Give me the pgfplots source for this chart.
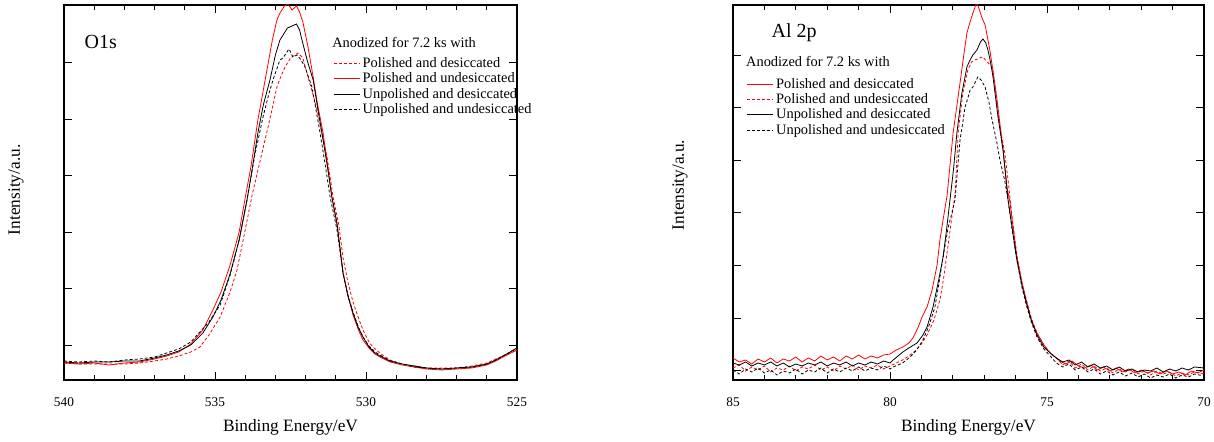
\documentclass[border=0pt]{standalone}
\usepackage{fontspec}
\setmainfont{Liberation Serif}
\usepackage{pgfplots}
\pgfplotsset{compat=1.18}

\pgfplotsset{
  xps/.style={
    scale only axis, height=281.25pt, ymin=0, ymax=375,
    x dir=reverse,
    axis line style={line width=0.8pt},
    tick style={line width=0.6pt, black},
    major tick length=6pt, minor tick length=3.5pt,
    tick align=inside,
    yticklabels={},
    minor x tick num=4,
    tick label style={font=\fontsize{10}{12}\selectfont},
    /pgf/number format/assume math mode=true,
    xticklabel style={yshift=-10pt},
    label style={font=\fontsize{13}{15}\selectfont},
    xlabel={Binding Energy/eV},
    ylabel={Intensity/a.u.},
    xlabel style={at={(axis description cs:0.5,-0.125)}, anchor=center},
    legend style={draw=none, fill=none, font=\fontsize{10.8}{12}\selectfont,
      legend cell align=left, row sep=-1.5pt, anchor=north west},
    legend image code/.code={\draw[#1] plot coordinates {(0pt,0pt) (19.5pt,0pt)};},
    every axis plot/.append style={line width=0.6pt},
  },
  dsh/.style={dash pattern=on 2.2pt off 1.6pt},
}

\begin{document}
\begin{tikzpicture}
\path[use as bounding box] (0,0) rectangle (910.5pt,331.5pt);

% ---------- O1s ----------
\begin{axis}[xps, at={(48pt,46.5pt)}, anchor=south west, width=339.75pt,
  xmin=525, xmax=540, xtick={525,530,535,540},
  ytick={35,91.5,148,204.5,261,317.5},
  ylabel style={at={(axis description cs:-0.106,0.507)}, anchor=center},
  legend style={at={(axis description cs:0.585,0.875)}},
]
\addplot[red, dsh] coordinates {
(540.0,17) (539.5,16) (539.0,16) (538.5,16) (538.0,16) (537.5,17) (537.0,19)
(536.6,21) (536.2,24) (535.8,28) (535.5,33) (535.2,45) (534.83,63) (534.5,88)
(534.27,110) (534.0,150) (533.77,185) (533.5,220) (533.25,252) (533.1,272)
(532.95,293) (532.8,305) (532.68,313) (532.5,322) (532.35,325) (532.25,327)
(532.09,322) (531.92,303) (531.75,285) (531.62,270) (531.45,245) (531.29,223)
(531.09,183) (530.9,155) (530.76,122) (530.6,98) (530.43,78) (530.25,62)
(530.1,50) (529.9,38) (529.77,33) (529.5,26) (529.2,20) (528.8,16) (528.4,14)
(528.0,12) (527.5,12) (527.0,12) (526.5,14) (526.0,17) (525.7,21) (525.4,25) (525.0,30)};
\addlegendentry{Polished and desiccated}
\addplot[red] coordinates {
(540.0,17) (539.5,16) (539.0,17) (538.5,15) (538.0,17) (537.5,18) (537.0,21)
(536.6,24) (536.2,28) (535.8,36) (535.4,50) (535.07,70) (534.8,88) (534.5,115)
(534.2,148) (534.0,182) (533.8,215) (533.58,260) (533.4,290) (533.28,310)
(533.1,340) (532.95,360) (532.85,367) (532.7,374) (532.58,376) (532.45,370)
(532.3,374) (532.2,368) (532.09,358) (531.92,333) (531.75,303) (531.6,275)
(531.42,247) (531.25,210) (531.13,183) (530.96,155) (530.76,107) (530.6,85)
(530.43,65) (530.25,50) (530.1,40) (529.9,32) (529.7,26) (529.54,23) (529.2,18)
(528.8,15) (528.4,13) (528.0,11) (527.5,10) (527.0,11) (526.5,12) (526.0,15)
(525.7,19) (525.4,24) (525.0,30)};
\addlegendentry{Polished and undesiccated}
\addplot[black] coordinates {
(540.0,18) (539.5,17) (539.0,18) (538.5,18) (538.0,19) (537.5,19) (537.0,22)
(536.6,25) (536.2,29) (535.8,35) (535.4,47) (535.07,63) (534.8,80) (534.5,106)
(534.2,140) (533.94,180) (533.8,205) (533.58,247) (533.4,275) (533.18,300)
(533.0,325) (532.85,340) (532.6,352) (532.45,354) (532.3,356) (532.2,350)
(532.12,340) (531.95,320) (531.75,300) (531.6,272) (531.42,240) (531.25,208)
(531.13,183) (530.96,157) (530.76,107) (530.6,84) (530.43,67) (530.25,52)
(530.1,43) (529.9,33) (529.7,27) (529.54,24) (529.2,19) (528.8,16) (528.4,14)
(528.0,12) (527.5,11) (527.0,12) (526.5,13) (526.0,16) (525.7,20) (525.4,25) (525.0,32)};
\addlegendentry{Unpolished and desiccated}
\addplot[black, dsh] coordinates {
(540.0,19) (539.5,18) (539.0,19) (538.5,18) (538.0,20) (537.5,21) (537.0,23)
(536.6,27) (536.2,31) (535.8,38) (535.5,48) (535.2,58) (534.83,75) (534.5,105)
(534.2,140) (533.94,180) (533.68,225) (533.41,263) (533.2,288) (533.08,300)
(532.85,320) (532.75,322) (532.55,331) (532.42,323) (532.28,325) (532.15,320)
(532.02,313) (531.79,293) (531.52,247) (531.35,215) (531.19,183) (530.96,150)
(530.76,107) (530.6,85) (530.43,68) (530.25,53) (530.1,43) (529.9,34) (529.7,28)
(529.54,25) (529.2,19) (528.8,16) (528.4,13) (528.0,12) (527.5,11) (527.0,12)
(526.5,13) (526.0,16) (525.7,20) (525.4,25) (525.0,32)};
\addlegendentry{Unpolished and undesiccated}
\node[anchor=west, font=\fontsize{15}{17}\selectfont] at (axis description cs:0.035,0.901) {O1s};
\node[anchor=west, font=\fontsize{10.8}{12}\selectfont] at (axis description cs:0.582,0.901) {Anodized for 7.2 ks with};
\end{axis}

% ---------- Al 2p ----------
\begin{axis}[xps, at={(549.75pt,46.5pt)}, anchor=south west, width=353.25pt,
  xmin=70, xmax=85, xtick={70,75,80,85},
  ytick={9.4,62,114.6,167.2,219.8,272.4,325},
  ylabel style={at={(axis description cs:-0.1125,0.52)}, anchor=center},
  legend style={at={(axis description cs:0.02,0.82)}},
]
\addplot[red] coordinates {
(85.0,22) (84.8,18) (84.6,20) (84.4,16) (84.2,21) (84.0,18) (83.8,22) (83.6,17)
(83.4,21) (83.2,19) (83.0,23) (82.8,18) (82.6,22) (82.4,19) (82.2,24) (82.0,20)
(81.8,23) (81.6,19) (81.4,24) (81.2,21) (81.0,25) (80.8,21) (80.6,24) (80.4,22)
(80.2,25) (80.0,26) (79.8,30) (79.59,33) (79.4,37) (79.27,42) (79.1,53) (78.98,63)
(78.82,73) (78.66,90) (78.5,115) (78.41,140) (78.3,162) (78.18,185) (77.99,247)
(77.88,272) (77.77,297) (77.65,325) (77.55,347) (77.45,358) (77.36,367) (77.28,374)
(77.23,377) (77.15,370) (77.07,362) (76.97,355) (76.82,330) (76.7,305) (76.59,280)
(76.4,230) (76.27,192) (76.18,178) (76.05,145) (75.96,123) (75.8,98) (75.64,77)
(75.5,60) (75.32,47) (75.1,35) (74.9,27) (74.59,19) (74.4,16) (74.2,19) (74.0,14)
(73.8,12) (73.6,15) (73.4,10) (73.2,13) (73.0,9) (72.8,12) (72.6,8) (72.4,11)
(72.2,7) (72.0,10) (71.8,7) (71.6,9) (71.4,6) (71.2,9) (71.0,6) (70.8,8) (70.6,5)
(70.4,9) (70.2,7) (70.0,10)};
\addlegendentry{Polished and desiccated}
\addplot[red, dsh] coordinates {
(85.0,12) (84.8,15) (84.6,9) (84.4,13) (84.2,10) (84.0,14) (83.8,8) (83.6,12)
(83.4,10) (83.2,14) (83.0,9) (82.8,13) (82.6,11) (82.4,15) (82.2,10) (82.0,13)
(81.8,9) (81.6,14) (81.4,11) (81.2,15) (81.0,10) (80.8,14) (80.6,12) (80.4,15)
(80.2,11) (80.0,14) (79.8,17) (79.6,20) (79.4,24) (79.2,29) (79.0,36) (78.82,45)
(78.6,60) (78.41,80) (78.3,100) (78.15,135) (78.0,170) (77.93,185) (77.83,247)
(77.68,287) (77.52,310) (77.4,318) (77.29,320) (77.15,322) (77.04,323) (76.9,318)
(76.75,313) (76.66,293) (76.5,253) (76.35,228) (76.24,200) (76.1,160) (75.96,125)
(75.8,97) (75.64,78) (75.5,62) (75.32,47) (75.1,35) (74.9,27) (74.7,22) (74.5,15)
(74.3,19) (74.1,12) (73.9,16) (73.7,10) (73.5,14) (73.3,9) (73.1,12) (72.9,7)
(72.7,11) (72.5,8) (72.3,11) (72.1,6) (71.9,9) (71.7,5) (71.5,9) (71.3,6) (71.1,8)
(70.9,4) (70.7,7) (70.5,5) (70.3,8) (70.0,6)};
\addlegendentry{Polished and undesiccated}
\addplot[black] coordinates {
(85.0,17) (84.8,15) (84.6,18) (84.4,14) (84.2,17) (84.0,15) (83.8,18) (83.6,14)
(83.4,17) (83.2,13) (83.0,16) (82.8,14) (82.6,17) (82.4,15) (82.2,18) (82.0,14)
(81.8,17) (81.6,15) (81.4,18) (81.2,14) (81.0,17) (80.8,15) (80.6,18) (80.4,16)
(80.2,19) (80.0,17) (79.9,20) (79.59,28) (79.4,32) (79.14,37) (78.95,45) (78.82,53)
(78.63,73) (78.45,100) (78.31,123) (78.2,150) (78.09,180) (77.98,210) (77.87,247)
(77.71,287) (77.55,313) (77.45,320) (77.36,325) (77.23,330) (77.12,338) (77.04,341)
(76.95,337) (76.88,330) (76.8,318) (76.72,303) (76.56,263) (76.4,230) (76.24,180)
(76.1,150) (75.96,120) (75.8,95) (75.64,75) (75.5,60) (75.32,45) (75.1,33) (74.9,27)
(74.7,22) (74.5,18) (74.3,20) (74.1,15) (73.9,18) (73.7,13) (73.5,16) (73.3,12)
(73.1,14) (72.9,10) (72.7,13) (72.5,9) (72.3,11) (72.1,8) (71.9,10) (71.7,9)
(71.5,12) (71.3,8) (71.1,11) (70.9,9) (70.7,12) (70.5,10) (70.3,13) (70.0,12)};
\addlegendentry{Unpolished and desiccated}
\addplot[black, dsh] coordinates {
(85.0,10) (84.8,6) (84.6,11) (84.4,8) (84.2,12) (84.0,7) (83.8,10) (83.6,5)
(83.4,9) (83.2,7) (83.0,11) (82.8,6) (82.6,10) (82.4,8) (82.2,12) (82.0,7)
(81.8,11) (81.6,8) (81.4,12) (81.2,9) (81.0,13) (80.8,9) (80.6,12) (80.4,10)
(80.2,14) (80.0,11) (79.9,13) (79.6,17) (79.36,23) (79.15,30) (78.95,40) (78.75,55)
(78.57,73) (78.45,95) (78.31,123) (78.15,152) (77.93,180) (77.85,210) (77.77,240)
(77.68,258) (77.61,273) (77.52,282) (77.45,290) (77.36,293) (77.28,298) (77.2,303)
(77.1,300) (76.97,293) (76.85,278) (76.75,260) (76.6,238) (76.5,220) (76.35,200)
(76.24,180) (76.1,148) (75.96,120) (75.8,93) (75.64,73) (75.5,58) (75.32,43)
(75.1,31) (74.9,24) (74.7,17) (74.5,13) (74.3,16) (74.1,10) (73.9,13) (73.7,8)
(73.5,11) (73.3,6) (73.1,9) (72.9,5) (72.7,8) (72.5,4) (72.3,7) (72.1,3) (71.9,6)
(71.7,2) (71.5,5) (71.3,3) (71.1,6) (70.9,2) (70.7,5) (70.5,3) (70.3,6) (70.0,4)};
\addlegendentry{Unpolished and undesiccated}
\node[anchor=west, font=\fontsize{15}{17}\selectfont] at (axis description cs:0.072,0.925) {Al 2p};
\node[anchor=west, font=\fontsize{10.8}{12}\selectfont] at (axis description cs:0.018,0.848) {Anodized for 7.2 ks with};
\end{axis}
\end{tikzpicture}
\end{document}
